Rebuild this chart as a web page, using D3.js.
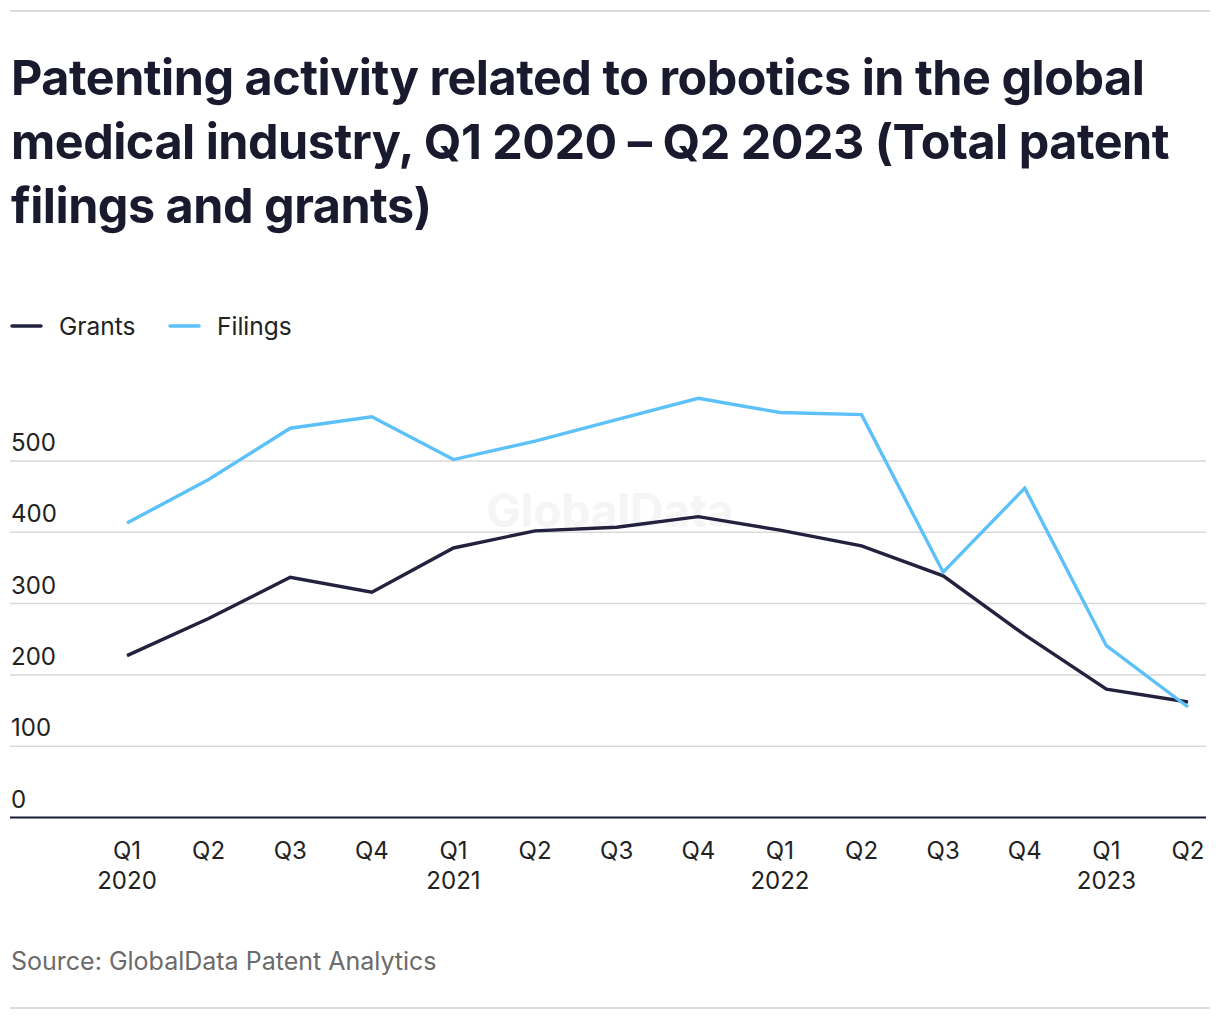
<!DOCTYPE html>
<html><head><meta charset="utf-8">
<script src="https://cdn.jsdelivr.net/npm/d3@7"></script>
<style>
html,body{margin:0;padding:0;background:#fff;}
svg{display:block;font-family:Inter,"Noto Sans",sans-serif;}
</style></head>
<body>
<svg id="c" width="1220" height="1020"></svg>
<script>
const quarters = ["Q1","Q2","Q3","Q4","Q1","Q2","Q3","Q4","Q1","Q2","Q3","Q4","Q1","Q2"];
const years = ["2020","","","","2021","","","","2022","","","","2023",""];
const grants = [227,279,337,316,378,402,407,422,403,381,339,256,180,162];
const filings = [413,474,546,562,502,528,558,588,568,565,344,462,241,155];
const yTicks = [0,100,200,300,400,500];
const titleLines = ["Patenting activity related to robotics in the global","medical industry, Q1 2020 \u2013 Q2 2023 (Total patent","filings and grants)"];
const seriesNames = ["Grants","Filings"];
const colors = ["#22223f","#5cc1f8"];

const svg = d3.select("#c");

// rules
svg.append("line").attr("x1",10).attr("x2",1210).attr("y1",11).attr("y2",11).attr("stroke","#dcdcdc").attr("stroke-width",2);
svg.append("line").attr("x1",10).attr("x2",1210).attr("y1",1008).attr("y2",1008).attr("stroke","#dcdcdc").attr("stroke-width",2);

// title
const tg = svg.append("g");
let fs = 44;
titleLines.forEach((t,i)=>{
  tg.append("text").attr("x",11).attr("y",95+i*64).text(t)
    .attr("font-size",fs).attr("font-weight",700).attr("fill","#191a2e")
    .attr("letter-spacing","-0.5px");
});
const first = tg.select("text").node();
const w = first.getComputedTextLength();
tg.selectAll("text").attr("font-size",fs*1131/w);

// scales
const x = d3.scalePoint().domain(d3.range(quarters.length)).range([127,1188]);
const y = d3.scaleLinear().domain([0,500]).range([817.5,461]);

// watermark
svg.append("text").attr("x",610).attr("y",527).attr("text-anchor","middle")
  .attr("font-size",46).attr("font-weight",700).attr("fill","#f5f5f5").text("GlobalData");

// grid
const grid = svg.append("g");
yTicks.filter(d=>d>0).forEach(d=>{
  grid.append("line").attr("x1",10).attr("x2",1206).attr("y1",y(d)).attr("y2",y(d))
    .attr("stroke","#d9d9d9").attr("stroke-width",1.5);
});
yTicks.forEach(d=>{
  svg.append("text").attr("x",11).attr("y",y(d)-10).text(d)
    .attr("font-size",24).attr("fill","#222");
});

// lines
const line = d3.line().x((d,i)=>x(i)).y(d=>y(d));
[grants,filings].forEach((s,k)=>{
  svg.append("path").datum(s).attr("d",line).attr("fill","none")
    .attr("stroke",colors[k]).attr("stroke-width",3.4).attr("stroke-linejoin","miter");
});

// axis
svg.append("line").attr("x1",10).attr("x2",1206).attr("y1",817.5).attr("y2",817.5)
  .attr("stroke","#161a2e").attr("stroke-width",2);

const xa = svg.append("g");
quarters.forEach((q,i)=>{
  xa.append("text").attr("x",x(i)).attr("y",859).attr("text-anchor","middle")
    .attr("font-size",24).attr("fill","#222").text(q);
  if(years[i]) xa.append("text").attr("x",x(i)).attr("y",889).attr("text-anchor","middle")
    .attr("font-size",24).attr("fill","#222").text(years[i]);
});

// legend
const lg = svg.append("g");
const lx = [12,170];
seriesNames.forEach((n,k)=>{
  lg.append("line").attr("x1",lx[k]).attr("x2",lx[k]+29).attr("y1",326).attr("y2",326)
    .attr("stroke",colors[k]).attr("stroke-width",3.5).attr("stroke-linecap","round");
  lg.append("text").attr("x",lx[k]+47).attr("y",335).attr("font-size",24.5).attr("fill","#222").text(n);
});

// source
svg.append("text").attr("x",11).attr("y",970).attr("font-size",25).attr("fill","#6b6b6b")
  .text("Source: GlobalData Patent Analytics");
</script>
</body></html>
